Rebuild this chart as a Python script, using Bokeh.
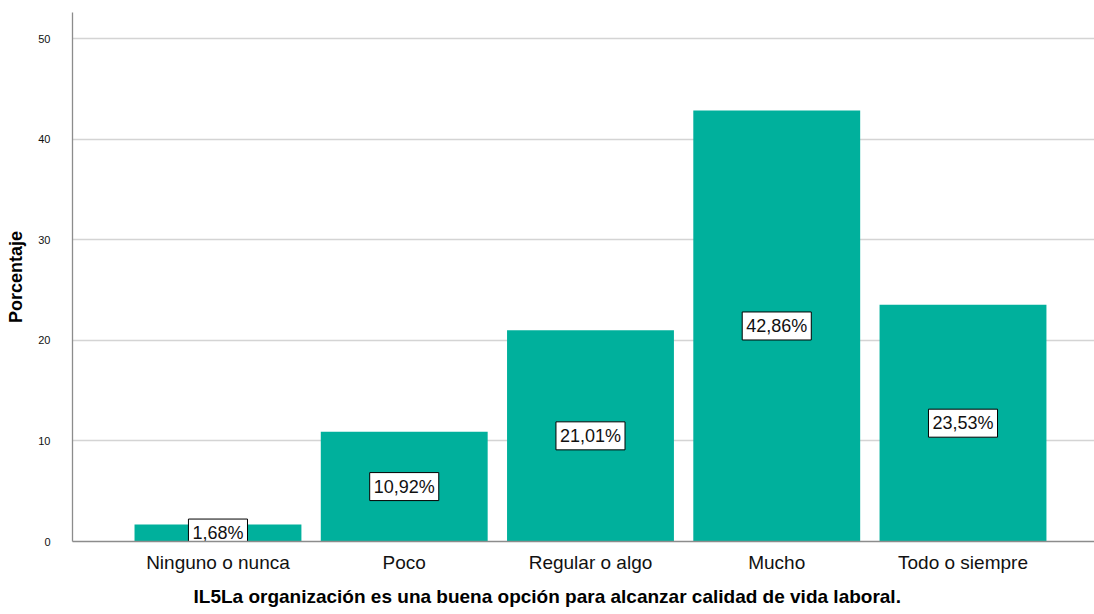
from bokeh.plotting import figure
from bokeh.models import Range1d, ColumnDataSource, FixedTicker, Title
from bokeh.core.properties import value
from bokeh.embed import file_html
from bokeh.resources import INLINE

categories = ["Ninguno o nunca", "Poco", "Regular o algo", "Mucho", "Todo o siempre"]
values = [1.68, 10.92, 21.01, 42.86, 23.53]
labels = ["1,68%", "10,92%", "21,01%", "42,86%", "23,53%"]
y_ticks = [0, 10, 20, 30, 40, 50]
x_title = "IL5La organización es una buena opción para alcanzar calidad de vida laboral."

xs = list(range(len(categories)))
src = ColumnDataSource(dict(x=xs, top=values, mid=[v / 2 for v in values], lab=labels))

p = figure(width=1094, height=614, output_backend="svg", toolbar_location=None,
           x_range=Range1d(-0.781, 4.706), y_range=Range1d(0, 52.6),
           min_border_left=72, min_border_right=0, min_border_top=12, min_border_bottom=60)
p.outline_line_color = None
p.background_fill_color = "white"

p.vbar(x="x", top="top", width=0.896, bottom=0, source=src,
       fill_color="#00b09c", line_color=None)

p.text(x="x", y="mid", text="lab", source=src,
       text_align="center", text_baseline="middle",
       text_font=value("Liberation Sans"), text_font_size="18px", text_color="#111111",
       background_fill_color="white", border_line_color="black",
       border_line_width=1, padding=4)

p.xgrid.grid_line_color = None
p.ygrid.grid_line_color = "#d4d4d4"
p.ygrid.grid_line_width = 1.3
p.yaxis.ticker = FixedTicker(ticks=y_ticks)
p.xaxis.ticker = FixedTicker(ticks=xs)
p.xaxis.major_label_overrides = {i: c for i, c in enumerate(categories)}

for ax in (p.xaxis[0], p.yaxis[0]):
    ax.axis_line_color = "#8c8c8c"
    ax.axis_line_width = 1.3
    ax.major_tick_line_color = None
    ax.minor_tick_line_color = None
    ax.major_label_text_font = "Liberation Sans"
    ax.axis_label_text_font = "Liberation Sans"
    ax.axis_label_text_font_style = "bold"
    ax.axis_label_text_color = "black"
    ax.major_label_text_color = "#111111"

p.xaxis.major_label_text_font_size = "19px"
p.xaxis.major_label_standoff = 4
p.yaxis.major_label_text_font_size = "11px"
p.yaxis.major_label_standoff = 16
p.yaxis.axis_label = "Porcentaje"
p.yaxis.axis_label_text_font_size = "18px"
p.yaxis.axis_label_standoff = 9

p.add_layout(Title(text=x_title, align="left", offset=121, standoff=16,
                   text_font="Liberation Sans", text_font_size="19px",
                   text_font_style="bold", text_color="black"), "below")

open("out.html", "w").write(file_html(p, INLINE))
